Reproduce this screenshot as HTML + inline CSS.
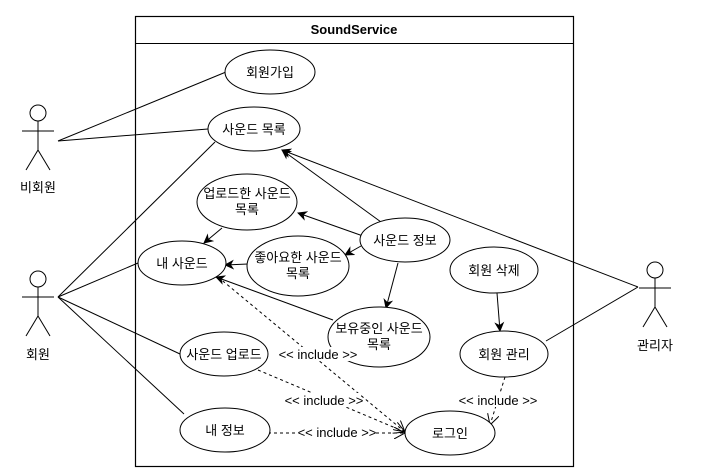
<!DOCTYPE html>
<html><head><meta charset="utf-8"><style>
html,body{margin:0;padding:0;background:#fff;width:704px;height:472px;overflow:hidden}
text{font-family:"Liberation Sans","Noto Sans CJK KR",sans-serif;font-size:13px;fill:#000}
</style></head><body>
<svg width="704" height="472" viewBox="0 0 704 472" xmlns="http://www.w3.org/2000/svg">
<defs>
<marker id="a" markerWidth="10" markerHeight="10" refX="9" refY="5" orient="auto" markerUnits="userSpaceOnUse"><path d="M0,0 L10,5 L0,10 L3,5 Z" fill="#000"/></marker>
<marker id="o" markerWidth="12" markerHeight="12" refX="11" refY="6" orient="auto" markerUnits="userSpaceOnUse"><path d="M0,0 L11,6 L0,12" fill="none" stroke="#000"/></marker>
</defs>
<rect x="135.5" y="16.5" width="438" height="450" fill="#fff" stroke="#000" stroke-width="1.2"/>
<line x1="135" y1="43.5" x2="573" y2="43.5" stroke="#000"/>
<text x="354" y="34" text-anchor="middle" font-weight="bold" style="font-size:13px">SoundService</text>
<g stroke="#000" fill="none">
<line x1="58" y1="141" x2="226" y2="72"/>
<line x1="58" y1="141" x2="208" y2="129"/>
<line x1="58" y1="297" x2="215" y2="142"/>
<line x1="58" y1="297" x2="138" y2="263"/>
<line x1="58" y1="297" x2="180" y2="354"/>
<line x1="58" y1="297" x2="184" y2="414"/>
<line x1="638" y1="287" x2="282" y2="150" marker-end="url(#a)"/>
<line x1="638" y1="287" x2="546" y2="341"/>
<line x1="381" y1="222" x2="282" y2="150" marker-end="url(#a)"/>
<line x1="363" y1="236" x2="298" y2="213" marker-end="url(#a)"/>
<line x1="361" y1="246" x2="345" y2="255" marker-end="url(#a)"/>
<line x1="398" y1="263" x2="386" y2="308" marker-end="url(#a)"/>
<line x1="222" y1="228" x2="204" y2="243" marker-end="url(#a)"/>
<line x1="248" y1="264" x2="225" y2="265" marker-end="url(#a)"/>
<line x1="333" y1="320" x2="216" y2="277" marker-end="url(#a)"/>
<line x1="497" y1="293" x2="500" y2="331" marker-end="url(#a)"/>
<g stroke-dasharray="3,3">
<line x1="218" y1="277" x2="405" y2="432" marker-end="url(#o)"/>
<line x1="258" y1="370" x2="405" y2="432" marker-end="url(#o)"/>
<line x1="268" y1="433" x2="405" y2="433" marker-end="url(#o)"/>
<line x1="505" y1="377" x2="490" y2="425" marker-end="url(#o)"/>
</g>
</g>
<g fill="#fff" stroke="#000">
<ellipse cx="270" cy="72" rx="45" ry="22"/>
<ellipse cx="254" cy="129" rx="46" ry="22"/>
<ellipse cx="247" cy="202" rx="50" ry="28"/>
<ellipse cx="182" cy="263" rx="44" ry="22"/>
<ellipse cx="298" cy="266" rx="51" ry="30"/>
<ellipse cx="405" cy="240" rx="45" ry="22"/>
<ellipse cx="494" cy="270" rx="44" ry="23"/>
<ellipse cx="379" cy="337" rx="51" ry="30"/>
<ellipse cx="224" cy="354" rx="44" ry="22"/>
<ellipse cx="504" cy="354" rx="44" ry="23"/>
<ellipse cx="225" cy="430" rx="45" ry="22"/>
<ellipse cx="450" cy="433" rx="45" ry="22"/>
</g>
<g text-anchor="middle">
<text x="270" y="77">회원가입</text>
<text x="254" y="134">사운드 목록</text>
<text x="247" y="198">업로드한 사운드</text><text x="247" y="214">목록</text>
<text x="182" y="268">내 사운드</text>
<text x="298" y="262">좋아요한 사운드</text><text x="298" y="278">목록</text>
<text x="405" y="245">사운드 정보</text>
<text x="494" y="275">회원 삭제</text>
<text x="379" y="333">보유중인 사운드</text><text x="379" y="349">목록</text>
<text x="224" y="359">사운드 업로드</text>
<text x="504" y="359">회원 관리</text>
<text x="225" y="435">내 정보</text>
<text x="450" y="438">로그인</text>
</g>
<g text-anchor="middle">
<rect x="284" y="347" width="70" height="14" fill="#fff"/>
<text x="318" y="359">&lt;&lt; include &gt;&gt;</text>
<rect x="290" y="393" width="70" height="14" fill="#fff"/>
<text x="324" y="405">&lt;&lt; include &gt;&gt;</text>
<rect x="298" y="425" width="78" height="14" fill="#fff"/>
<text x="337" y="437">&lt;&lt; include &gt;&gt;</text>
<rect x="458" y="393" width="80" height="14" fill="#fff"/>
<text x="498" y="405">&lt;&lt; include &gt;&gt;</text>
</g>
<g stroke="#000" fill="#fff">
<circle cx="38" cy="113" r="8"/>
<line x1="38" y1="121" x2="38" y2="150"/><line x1="22" y1="131" x2="54" y2="131"/>
<line x1="38" y1="150" x2="26" y2="170"/><line x1="38" y1="150" x2="50" y2="170"/>
<circle cx="38" cy="279" r="8"/>
<line x1="38" y1="287" x2="38" y2="316"/><line x1="22" y1="297" x2="54" y2="297"/>
<line x1="38" y1="316" x2="26" y2="336"/><line x1="38" y1="316" x2="50" y2="336"/>
<circle cx="655" cy="270" r="8"/>
<line x1="655" y1="278" x2="655" y2="307"/><line x1="639" y1="288" x2="671" y2="288"/>
<line x1="655" y1="307" x2="643" y2="327"/><line x1="655" y1="307" x2="667" y2="327"/>
</g>
<text x="38" y="192" text-anchor="middle">비회원</text>
<text x="38" y="359" text-anchor="middle">회원</text>
<text x="655" y="350" text-anchor="middle">관리자</text>
</svg>
</body></html>
